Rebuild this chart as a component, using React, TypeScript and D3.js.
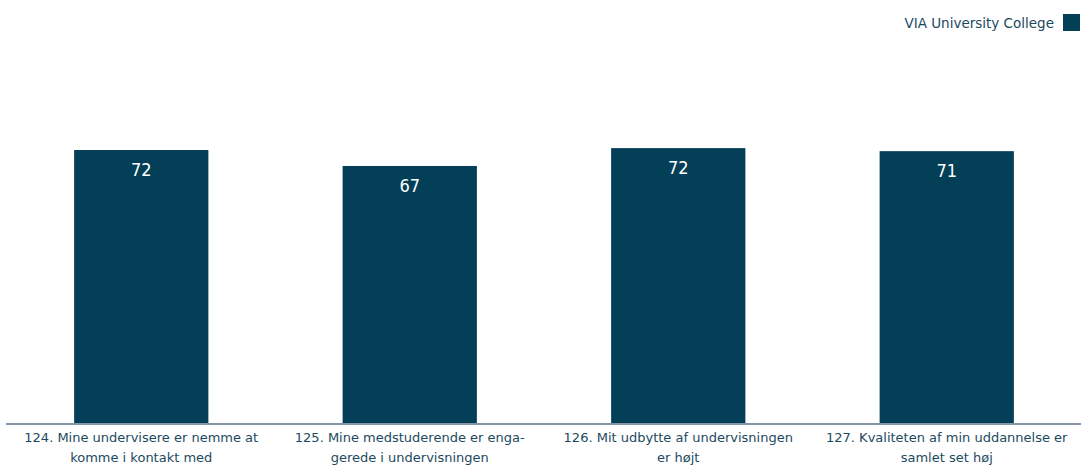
import React from "react";
import * as d3 from "d3";

const categories = [
  "124. Mine undervisere er nemme at komme i kontakt med",
  "125. Mine medstuderende er engagerede i undervisningen",
  "126. Mit udbytte af undervisningen er højt",
  "127. Kvaliteten af min uddannelse er samlet set høj",
];
const categoryLines = [
  ["124. Mine undervisere er nemme at", "komme i kontakt med"],
  ["125. Mine medstuderende er enga-", "gerede i undervisningen"],
  ["126. Mit udbytte af undervisningen", "er højt"],
  ["127. Kvaliteten af min uddannelse er", "samlet set høj"],
];
const values = [72.1, 67.9, 72.6, 71.8];
const valueLabels = ["72", "67", "72", "71"];
const seriesName = "VIA University College";

const W = 1081;
const H = 465;
const BAR = "#033f56";
const TEXT = "#1b4a60";
const FONT = "'DejaVu Sans', Verdana, sans-serif";
const FONT_C = "'DejaVu Sans Condensed', 'DejaVu Sans', Tahoma, sans-serif";

export default function App() {
  const x = d3.scaleBand<string>().domain(categories).range([7, 1081]).paddingInner(0.5).paddingOuter(0.25);
  const y = d3.scaleLinear().domain([0, 100]).range([424, 44]);

  return (
    <svg
      width={W}
      height={H}
      style={{ position: "absolute", left: 0, top: 0, background: "#fff" }}
      fontFamily={FONT}
    >
      {categories.map((c, i) => {
        const bx = x(c)!;
        const bw = x.bandwidth();
        const top = y(values[i]);
        return (
          <g key={c}>
            <rect x={bx} y={top} width={bw} height={y(0) - top} fill={BAR} />
            <text
              x={bx + bw / 2}
              y={top + 26}
              textAnchor="middle"
              fill="#ffffff"
              fontSize={18}
              fontFamily={FONT_C}
              style={{ fontStretch: "condensed" }}
            >
              {valueLabels[i]}
            </text>
            {categoryLines[i].map((ln, j) => (
              <text
                key={j}
                x={bx + bw / 2}
                y={442 + j * 20}
                textAnchor="middle"
                fill={TEXT}
                fontSize={13}
              >
                {ln}
              </text>
            ))}
          </g>
        );
      })}
      <line x1={6} x2={W} y1={424} y2={424} stroke="#8595a8" strokeWidth={2} />
      <text x={1054} y={28} textAnchor="end" fill={TEXT} fontSize={13.5}>
        {seriesName}
      </text>
      <rect x={1063} y={14} width={17} height={17} fill={BAR} />
    </svg>
  );
}
